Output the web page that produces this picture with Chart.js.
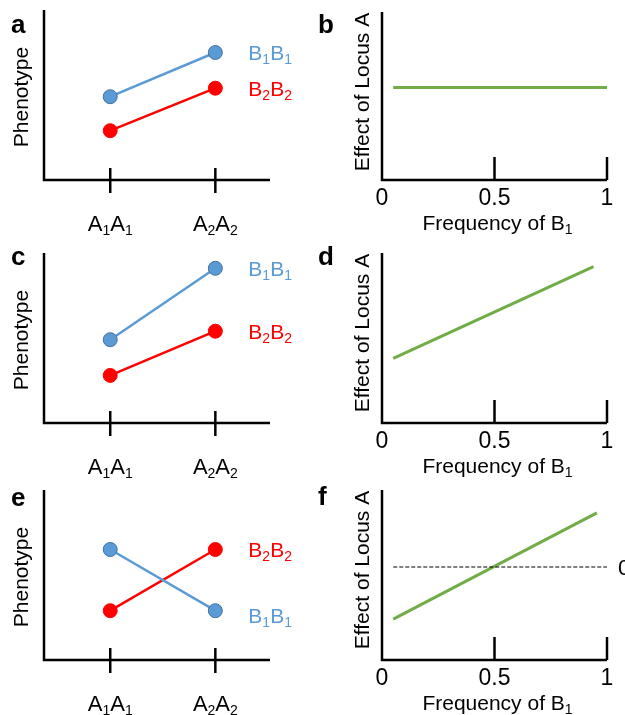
<!DOCTYPE html>
<html><head><meta charset="utf-8">
<script src="https://cdn.jsdelivr.net/npm/chart.js@4/dist/chart.umd.min.js"></script>
<style>
html,body{margin:0;padding:0;background:#fff;width:625px;height:715px;overflow:hidden;position:relative}
canvas{position:absolute;display:block}
</style></head><body>
<canvas id="ca" width="312" height="240" style="left:0;top:0"></canvas>
<canvas id="cb" width="313" height="240" style="left:312px;top:0"></canvas>
<canvas id="cc" width="312" height="240" style="left:0;top:240px"></canvas>
<canvas id="cd" width="313" height="240" style="left:312px;top:240px"></canvas>
<canvas id="ce" width="312" height="235" style="left:0;top:480px"></canvas>
<canvas id="cf" width="313" height="235" style="left:312px;top:480px"></canvas>
<script>
// ---------- data ----------
const genotypePos = [1, 2];
const genotypeLabels = ['A_1A_1', 'A_2A_2'];
const seriesNames = ['B_1B_1', 'B_2B_2'];
const aB1 = [4.9, 7.5];
const aB2 = [2.9, 5.4];
const cB1 = [4.9, 9.1];
const cB2 = [2.8, 5.4];
const eB1 = [6.5, 2.9];
const eB2 = [2.9, 6.5];
const freqTickLabels = ['0', '0.5', '1'];
const freqTickValues = [0, 0.5, 1];
const freqTickMarks = [0.5, 1];
const bFreq = [0.05, 1.0];
const bEffect = [5.5, 5.5];
const dFreq = [0.05, 0.94];
const dEffect = [3.8, 9.2];
const fFreq = [0.05, 0.955];
const fEffect = [2.4, 8.65];
const fZeroFreq = [0.05, 1.0];
const fZero = [5.47, 5.47];
const leftTitle = 'Phenotype';
const rightTitle = 'Effect of Locus A';
const rightXTitle = 'Frequency of B_1';

// ---------- helpers ----------
const FF = '"Liberation Sans", Arial, Helvetica, sans-serif';
const BLUE = '#5b9bd5', BLUE_DARK = '#41719c', RED = '#ff0000', GREEN = '#70ad47';
function parts(s){
  const out=[]; let i=0;
  while(i<s.length){
    if(s[i]==='_'){ out.push([s[i+1],true]); i+=2; }
    else { let j=i; while(j<s.length && s[j]!=='_') j++; out.push([s.slice(i,j),false]); i=j; }
  }
  return out;
}
function drawRich(ctx, s, x, y, o){
  o = Object.assign({size:21, sub:14, subDy:4, align:'left', color:'#000', weight:''}, o||{});
  const ps = parts(s);
  let w=0;
  for(const [t,sub] of ps){ ctx.font = o.weight+' '+(sub?o.sub:o.size)+'px '+FF; w += ctx.measureText(t).width; }
  let cx = o.align==='center' ? x - w/2 : (o.align==='right' ? x - w : x);
  ctx.fillStyle = o.color; ctx.textAlign='left'; ctx.textBaseline='alphabetic';
  for(const [t,sub] of ps){
    ctx.font = o.weight+' '+(sub?o.sub:o.size)+'px '+FF;
    ctx.fillText(t, cx, y + (sub?o.subDy:0));
    cx += ctx.measureText(t).width;
  }
}
const decor = {
  id:'decor',
  afterDatasetsDraw(chart, args, o){
    const ctx = chart.ctx, ca = chart.chartArea, xs = chart.scales.x, ys = chart.scales.y;
    ctx.save();
    ctx.strokeStyle='#000'; ctx.lineWidth=2.5; ctx.lineCap='butt';
    ctx.beginPath(); ctx.moveTo(ca.left, ca.top); ctx.lineTo(ca.left, ca.bottom); ctx.lineTo(ca.right, ca.bottom); ctx.stroke();
    for(const v of o.tickMarks){
      const px = xs.getPixelForValue(v);
      ctx.beginPath(); ctx.moveTo(px, ca.bottom + o.tickDown); ctx.lineTo(px, ca.bottom - o.tickUp); ctx.stroke();
    }
    o.tickValues.forEach((v,i)=>{
      drawRich(ctx, o.tickLabels[i], xs.getPixelForValue(v), ca.bottom + o.tickLabelDy, {align:'center', size:o.tickSize||21});
    });
    if(o.xTitle) drawRich(ctx, o.xTitle, (ca.left+ca.right)/2 + 3, ca.bottom + 50, {align:'center'});
    // y title
    ctx.save();
    ctx.translate(o.yTitleX, ca.top + o.yTitleCy);
    ctx.rotate(-Math.PI/2);
    drawRich(ctx, o.yTitle, 0, 0, {align:'center'});
    ctx.restore();
    // panel letter
    drawRich(ctx, o.letter, o.letterX, o.letterY, {size:26, weight:'bold'});
    // series labels
    (o.seriesLabels||[]).forEach(l=>{
      const ds = chart.data.datasets[l.ds];
      const pt = ds.data[ds.data.length-1];
      drawRich(ctx, l.text, xs.getPixelForValue(pt.x) + 33, ys.getPixelForValue(pt.y) + 7.5 + (l.dy||0), {color:l.color});
    });
    if(o.zeroLabel){
      drawRich(ctx, o.zeroLabel.text, ca.right + 11, ys.getPixelForValue(o.zeroLabel.y) + 8, {size:22});
    }
    ctx.restore();
  }
};
function pts(xs, ys){ return xs.map((x,i)=>({x:x, y:ys[i]})); }
function baseOptions(pad, xmin, xmax, decorOpts){
  return {
    responsive:false, animation:false, devicePixelRatio:1,
    layout:{padding:pad},
    scales:{
      x:{type:'linear', min:xmin, max:xmax, display:false},
      y:{type:'linear', min:0, max:10, display:false}
    },
    plugins:{legend:{display:false}, tooltip:{enabled:false}, decor:decorOpts},
    elements:{line:{tension:0}}
  };
}
function makeLeft(id, b1, b2, letter, pad, letterY, order){
  new Chart(document.getElementById(id), {
    type:'line',
    data:{datasets:[
      {data:pts(genotypePos,b1), borderColor:BLUE, borderWidth:2.5, pointRadius:7, pointBackgroundColor:BLUE, pointBorderColor:BLUE_DARK, pointBorderWidth:1, clip:false},
      {data:pts(genotypePos,b2), borderColor:RED, borderWidth:2.5, pointRadius:7, pointBackgroundColor:RED, pointBorderColor:RED, pointBorderWidth:1, clip:false}
    ]},
    options: baseOptions(pad, 0.37, 2.52, {
      tickMarks:genotypePos, tickValues:genotypePos, tickLabels:genotypeLabels,
      tickDown:13, tickUp:12, tickLabelDy:51, tickSize:22,
      yTitle:leftTitle, yTitleX:28, yTitleCy:87,
      letter:letter, letterX:11, letterY:letterY,
      seriesLabels:[{ds:0, text:seriesNames[0], color:BLUE, dy:order?order[0]:0},{ds:1, text:seriesNames[1], color:RED, dy:order?order[1]:0}]
    }),
    plugins:[decor]
  });
}
function makeRight(id, datasets, letter, pad, letterY, zeroLabel){
  new Chart(document.getElementById(id), {
    type:'line',
    data:{datasets:datasets},
    options: baseOptions(pad, 0, 1, {
      tickMarks:freqTickMarks, tickValues:freqTickValues, tickLabels:freqTickLabels,
      tickDown:0, tickUp:23, tickLabelDy:25, tickSize:23, xTitle:rightXTitle,
      yTitle:rightTitle, yTitleX:57, yTitleCy:80,
      letter:letter, letterX:6, letterY:letterY, zeroLabel:zeroLabel
    }),
    plugins:[decor]
  });
}
const greenDs = (x,y)=>({data:pts(x,y), borderColor:GREEN, borderWidth:3, pointRadius:0, clip:false});

makeLeft('ca', aB1, aB2, 'a', {left:44,right:42,top:10,bottom:60}, 33);
makeLeft('cc', cB1, cB2, 'c', {left:44,right:42,top:13,bottom:57}, 25);
makeLeft('ce', eB1, eB2, 'e', {left:44,right:42,top:10,bottom:55}, 26, [5,0]);

makeRight('cb', [greenDs(bFreq,bEffect)], 'b', {left:70,right:18,top:12,bottom:60}, 33);
makeRight('cd', [greenDs(dFreq,dEffect)], 'd', {left:70,right:18,top:13,bottom:57}, 25);
makeRight('cf', [
  {data:pts(fZeroFreq,fZero), borderColor:'#000', borderWidth:1, borderDash:[4,2], pointRadius:0, clip:false},
  greenDs(fFreq,fEffect)
], 'f', {left:70,right:18,top:10,bottom:55}, 25, {text:'0', y:fZero[0]});
</script>
</body></html>
